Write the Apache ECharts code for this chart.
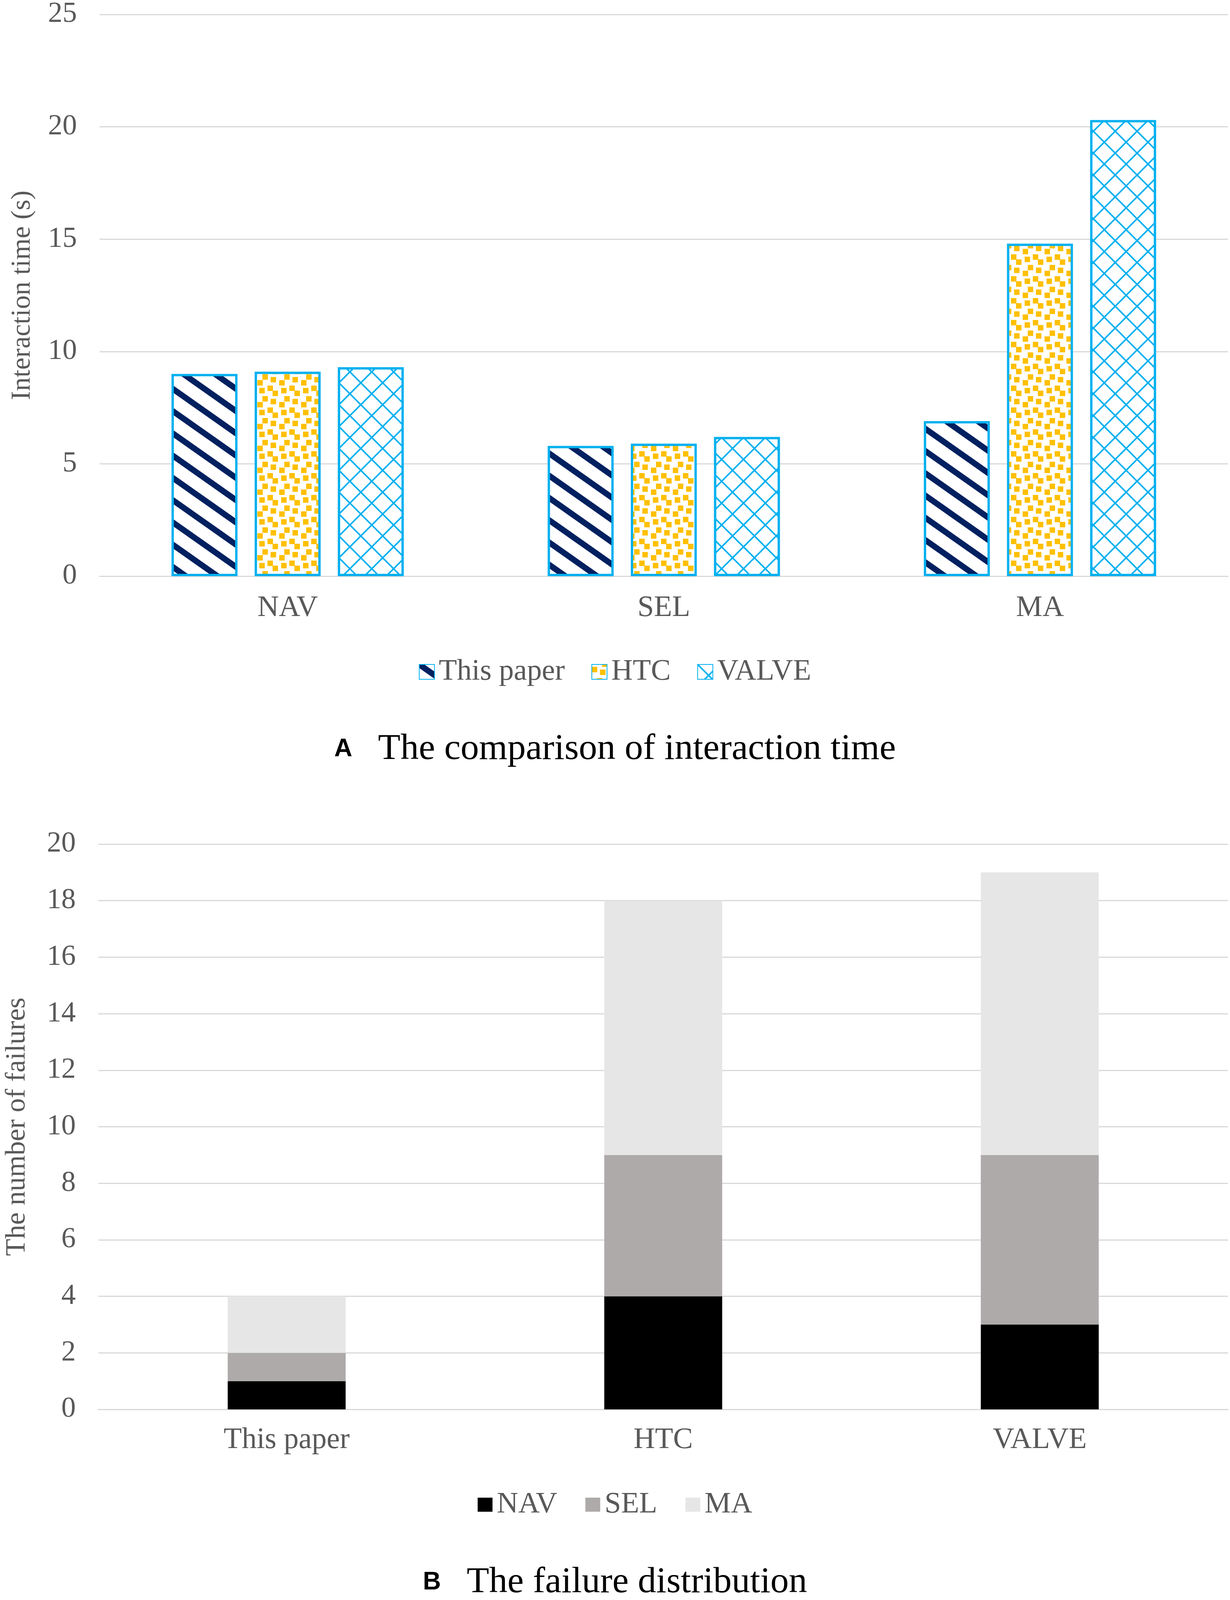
<!DOCTYPE html>
<html>
<head>
<meta charset="utf-8">
<title>Interaction time and failure distribution</title>
<script src="https://cdn.jsdelivr.net/npm/echarts@6/dist/echarts.min.js"></script>
<style>
  html, body { margin: 0; padding: 0; background: #ffffff; overflow: hidden; }
  #main { width: 3150px; height: 4333px; }
</style>
</head>
<body>
<div id="main"></div>
<script>
// chart A data
var timeCategories = ["NAV", "SEL", "MA"];
var timeThisPaper = [9.0, 5.8, 6.9];
var timeHTC = [9.1, 5.9, 14.8];
var timeVALVE = [9.3, 6.2, 20.3];

// chart B data
var failCategories = ["This paper", "HTC", "VALVE"];
var failNAV = [1, 4, 3];
var failSEL = [1, 5, 6];
var failMA = [2, 9, 10];

var serifFont = "'Liberation Serif', 'DejaVu Serif', serif";
var sansFont = "'Liberation Sans', Arial, sans-serif";
var textGray = "#595959";
var gridGray = "#D9D9D9";
var edgeBlue = "#00B0F0";

// layout is drawn for 4333px height; shrink vertically if the viewport is shorter
var pageH = Math.min(window.innerHeight || 4333, 4333);
var sy = pageH / 4333;
function v(n) {
  return Math.round(n * sy);
}
document.getElementById("main").style.height = pageH + "px";

// pattern tiles (excel-like fills)
function stripeTile() {
  var c = document.createElement("canvas");
  c.width = 81;
  c.height = 57;
  var ctx = c.getContext("2d");
  ctx.fillStyle = "#ffffff";
  ctx.fillRect(0, 0, 81, 57);
  ctx.strokeStyle = "#002060";
  ctx.lineWidth = 15;
  for (var k = -1; k <= 1; k++) {
    ctx.beginPath();
    ctx.moveTo(-10, k * 57 - 10 * 57 / 81);
    ctx.lineTo(91, k * 57 + 57 + 10 * 57 / 81);
    ctx.stroke();
  }
  return c;
}

function dotTile() {
  var c = document.createElement("canvas");
  c.width = 56;
  c.height = 56;
  var ctx = c.getContext("2d");
  ctx.fillStyle = "#ffffff";
  ctx.fillRect(0, 0, 56, 56);
  ctx.fillStyle = "#FFC000";
  var pts = [[7, 13], [28, 20], [50, 28], [20, 42], [33, 55], [55, 48]];
  pts.forEach(function (p) {
    for (var dx = -56; dx <= 56; dx += 56) {
      for (var dy = -56; dy <= 56; dy += 56) {
        ctx.fillRect(p[0] - 7 + dx, p[1] - 7 + dy, 14, 14);
      }
    }
  });
  return c;
}

function diamondTile() {
  var c = document.createElement("canvas");
  c.width = 56;
  c.height = 56;
  var ctx = c.getContext("2d");
  ctx.fillStyle = "#ffffff";
  ctx.fillRect(0, 0, 56, 56);
  ctx.strokeStyle = edgeBlue;
  ctx.lineWidth = 4;
  ctx.beginPath();
  ctx.moveTo(-4, -4);
  ctx.lineTo(60, 60);
  ctx.moveTo(60, -4);
  ctx.lineTo(-4, 60);
  ctx.stroke();
  return c;
}

var myChart = echarts.init(document.getElementById("main"));

var patternStyle = function (tile) {
  return {
    color: { image: tile, repeat: "repeat" },
    borderColor: edgeBlue,
    borderWidth: 6
  };
};

var captionRich = {
  a: { fontFamily: sansFont, fontWeight: "bold", fontSize: 64, color: "#000", padding: [0, 66, 0, 0] },
  t: { fontFamily: serifFont, fontWeight: "normal", fontSize: 94, color: "#000" }
};

var labelFont = 76;

var option = {
  backgroundColor: "#ffffff",
  animation: false,
  title: [
    {
      text: "{a|A}{t|The comparison of interaction time}",
      left: "center",
      top: v(2029) - 52,
      textStyle: { fontWeight: "normal", rich: captionRich }
    },
    {
      text: "{a|B}{t|The failure distribution}",
      left: "center",
      top: v(4285) - 52,
      textStyle: { fontWeight: "normal", rich: captionRich }
    }
  ],
  legend: [
    {
      data: ["This paper", "HTC", "VALVE"],
      left: "center",
      top: v(1816) - 40,
      icon: "rect",
      itemWidth: 39,
      itemHeight: 38,
      itemGap: 68,
      textStyle: { fontFamily: serifFont, fontSize: labelFont, color: textGray, padding: [0, 0, 0, 6] }
    },
    {
      data: ["NAV", "SEL", "MA"],
      left: "center",
      top: v(4072) - 40,
      icon: "rect",
      itemWidth: 38,
      itemHeight: 36,
      itemGap: 72,
      textStyle: { fontFamily: serifFont, fontSize: labelFont, color: textGray, padding: [0, 0, 0, 6] }
    }
  ],
  grid: [
    { left: 255, right: 5, top: v(30), height: v(1531) },
    { left: 238, right: 5, top: v(2286), height: v(1531) }
  ],
  xAxis: [
    {
      type: "category",
      gridIndex: 0,
      data: timeCategories,
      axisLine: { show: true, lineStyle: { color: gridGray, width: 3 } },
      axisTick: { show: false },
      axisLabel: { fontFamily: serifFont, fontSize: labelFont, color: textGray, margin: v(89) - 40 }
    },
    {
      type: "category",
      gridIndex: 1,
      data: failCategories,
      axisLine: { show: true, lineStyle: { color: gridGray, width: 3 } },
      axisTick: { show: false },
      axisLabel: { fontFamily: serifFont, fontSize: labelFont, color: textGray, margin: v(86) - 40 }
    }
  ],
  yAxis: [
    {
      type: "value",
      gridIndex: 0,
      min: 0,
      max: 25,
      interval: 5,
      name: "Interaction time (s)",
      nameLocation: "middle",
      nameRotate: 90,
      nameGap: 162,
      nameTextStyle: { fontFamily: serifFont, fontSize: v(74), color: textGray },
      axisLine: { show: false },
      axisTick: { show: false },
      axisLabel: { fontFamily: serifFont, fontSize: 74, color: textGray, margin: 58 },
      splitLine: { lineStyle: { color: gridGray, width: 3 } }
    },
    {
      type: "value",
      gridIndex: 1,
      min: 0,
      max: 20,
      interval: 2,
      name: "The number of failures",
      nameLocation: "middle",
      nameRotate: 90,
      nameGap: 172,
      nameTextStyle: { fontFamily: serifFont, fontSize: v(76), color: textGray },
      axisLine: { show: false },
      axisTick: { show: false },
      axisLabel: { fontFamily: serifFont, fontSize: 74, color: textGray, margin: 58 },
      splitLine: { lineStyle: { color: gridGray, width: 3 } }
    }
  ],
  series: [
    {
      name: "This paper",
      type: "bar",
      xAxisIndex: 0,
      yAxisIndex: 0,
      data: timeThisPaper,
      barWidth: 169,
      barGap: "26%",
      itemStyle: patternStyle(stripeTile())
    },
    {
      name: "HTC",
      type: "bar",
      xAxisIndex: 0,
      yAxisIndex: 0,
      data: timeHTC,
      barWidth: 169,
      barGap: "26%",
      itemStyle: patternStyle(dotTile())
    },
    {
      name: "VALVE",
      type: "bar",
      xAxisIndex: 0,
      yAxisIndex: 0,
      data: timeVALVE,
      barWidth: 169,
      barGap: "26%",
      itemStyle: patternStyle(diamondTile())
    },
    {
      name: "NAV",
      type: "bar",
      stack: "fail",
      xAxisIndex: 1,
      yAxisIndex: 1,
      data: failNAV,
      barWidth: 302,
      itemStyle: { color: "#000000" }
    },
    {
      name: "SEL",
      type: "bar",
      stack: "fail",
      xAxisIndex: 1,
      yAxisIndex: 1,
      data: failSEL,
      barWidth: 302,
      itemStyle: { color: "#AEAAAA" }
    },
    {
      name: "MA",
      type: "bar",
      stack: "fail",
      xAxisIndex: 1,
      yAxisIndex: 1,
      data: failMA,
      barWidth: 302,
      itemStyle: { color: "#E7E6E6" }
    }
  ]
};

myChart.setOption(option);
</script>
</body>
</html>
